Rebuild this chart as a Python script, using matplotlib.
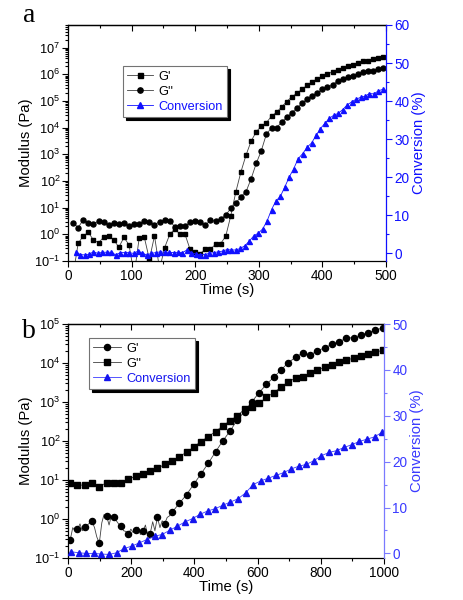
import numpy as np
import matplotlib
matplotlib.use('Agg')
import matplotlib.pyplot as plt
from matplotlib.ticker import FixedLocator, MultipleLocator, NullFormatter, LogFormatterSciNotation
from matplotlib.lines import Line2D

plt.rcParams['font.family'] = ['Liberation Sans', 'DejaVu Sans']
plt.rcParams['mathtext.fontset'] = 'custom'
plt.rcParams['mathtext.rm'] = 'Liberation Sans'
plt.rcParams['mathtext.it'] = 'Liberation Sans:italic'
plt.rcParams['mathtext.bf'] = 'Liberation Sans:bold'

# ---------------- Panel a data ----------------
time_a_mod = np.arange(8, 500, 8)          # s
gprime_a = [0.03, 0.46, 0.87, 1.19, 0.61, 0.49, 0.77, 0.89, 0.61, 0.33,
            0.77, 0.40, 0.03, 0.75, 0.77, 0.115, 0.87, 0.05, 0.32, 1.0,
            1.6, 1.0, 1.0, 0.27, 0.21, 0.19, 0.28, 0.28, 0.42, 0.45,
            0.85, 5.0, 40, 224, 950, 3160, 7000, 1.15e4,
            10**4.19, 10**4.43, 10**4.58, 10**4.78, 10**4.98, 10**5.16, 10**5.29,
            10**5.44, 10**5.59, 10**5.73, 10**5.83, 10**5.93, 10**6.01, 10**6.10,
            10**6.18, 10**6.24, 10**6.30, 10**6.36, 10**6.41, 10**6.49, 10**6.51,
            10**6.56, 10**6.60, 10**6.65]
gdprime_a = [2.7, 1.8, 3.5, 2.7, 2.4, 3.2, 3.0, 2.2, 2.6, 2.4,
             2.7, 2.0, 2.4, 2.4, 3.2, 3.0, 2.3, 3.0, 3.4, 3.2,
             1.9, 2.1, 2.1, 2.8, 3.3, 2.8, 2.2, 3.4, 3.1,
             3.7, 5.3, 9.4, 15, 26, 40, 123, 460, 1380, 5800, 9800, 1.0e4,
             10**4.21, 10**4.39, 10**4.56, 10**4.74, 10**4.91, 10**5.08, 10**5.20,
             10**5.31, 10**5.44, 10**5.51, 10**5.61, 10**5.75, 10**5.84, 10**5.90,
             10**5.95, 10**6.00, 10**6.09, 10**6.11, 10**6.14, 10**6.19, 10**6.25]
time_a_conv = np.arange(12, 500, 7)
conv_a = [0.3, -0.3, -0.4, -0.2, 0.4, 0.0, 0.3, 0.3, 0.3, -0.4,
          0.2, 0.2, 0.2, 0.0, 0.6, 0.0, -0.4, 0.0, 0.2, 0.4,
          0.3, 0.3, 0.2, 0.3, 0.2, 0.9, 0.2, -0.2, -0.3, -0.3,
          0.0, 0.2, 0.4, 0.6,
          1.0, 0.9, 0.9, 1.3, 2.0, 3.2, 4.6, 5.3, 6.4, 8.5,
          11.5, 13.8, 15.0, 17.5, 20.1, 22.3, 24.9, 26.2, 27.9, 29.0,
          31.0, 32.8, 34.2, 35.5, 36.3, 36.8, 37.8, 39.0, 39.8, 40.5,
          41.0, 41.3, 42.0, 41.9, 42.7, 43.1]

# ---------------- Panel b data ----------------
time_b_mod = np.arange(7, 1000, 23)
gprime_b = [0.29, 0.55, 0.62, 0.87, 0.24, 1.21, 1.10, 0.65, 0.42, 0.52,
            0.48, 0.42, 1.12, 0.76, 1.48, 2.5, 4.2, 7.8, 14.4, 27,
            53, 101, 181, 350, 570, 1020, 1740, 2840, 4300, 6600,
            1.02e4, 1.4e4, 1.83e4, 1.6e4, 2.04e4, 2.46e4, 3.0e4, 3.55e4, 4.3e4, 4.5e4,
            5.2e4, 6.0e4, 6.9e4, 8.0e4]
gdprime_b = [8.3, 7.4, 7.4, 8.2, 6.8, 8.5, 8.5, 8.6, 10.7, 12.3,
             14.4, 16.9, 20, 25, 30, 40, 51, 71, 97, 130,
             175, 244, 334, 449, 652, 760, 930, 1320, 1740, 2390,
             3330, 4070, 4460, 5460, 6640, 7770, 8900, 1.05e4, 1.2e4, 1.32e4,
             1.5e4, 1.66e4, 1.87e4, 2.14e4]
# G' (b) raw trace between the early markers (line only)
gprime_b_trace_t = [7, 15, 22, 30, 38, 45, 53, 61, 68, 76, 84, 91, 99, 107, 114,
                    122, 130, 137, 145, 153, 160, 168, 176, 183, 191, 199, 206,
                    214, 222, 229, 237, 245, 252, 260, 268, 275, 283, 291, 298,
                    306, 314, 321, 329]
gprime_b_trace = [0.29, 0.6, 0.5, 0.55, 0.75, 0.5, 0.62, 0.7, 0.78, 0.87, 0.6,
                  0.35, 0.24, 0.8, 1.3, 1.21, 0.7, 1.2, 1.10, 0.9, 0.75, 0.65,
                  0.5, 0.48, 0.42, 0.55, 0.45, 0.52, 0.62, 0.4, 0.48, 0.7, 0.38,
                  0.42, 0.85, 0.5, 1.12, 0.6, 0.9, 0.76, 1.1, 1.2, 1.48]
time_b_conv = np.arange(10, 1000, 24)
conv_b = [0.36, 0.14, 0.0, 0.0, -0.14, -0.22, 0.14, 1.08, 1.59, 2.31,
          3.03, 3.76, 4.12, 5.06, 5.92, 6.86, 7.59, 8.53, 9.25, 9.75,
          10.5, 11.2, 11.9, 13.2, 15.0, 15.8, 16.4, 17.0, 17.6, 18.4,
          19.0, 19.4, 20.2, 21.3, 22.0, 22.4, 23.1, 23.7, 24.4, 24.9,
          25.4, 26.4]

BLUE_A = '#1010ff'
BLUE_B = '#3a3aff'
SPINE_B = '#7a7aff'
LINE = '#404040'

fig = plt.figure(figsize=(4.63, 6.0), dpi=100)
W, H = 463.0, 600.0
axA = fig.add_axes([68 / W, 1 - 261 / H, (386 - 68) / W, (261 - 25) / H])
axB = fig.add_axes([68 / W, 1 - 558 / H, (384 - 68) / W, (558 - 324) / H])


def style(ax, xmax, xmaj, xmin, ylim, decades, rlim, rcolor, spinecolor):
    ax.set_xlim(0, xmax)
    ax.set_yscale('log')
    ax.set_ylim(*ylim)
    ax.xaxis.set_major_locator(MultipleLocator(xmaj))
    ax.xaxis.set_minor_locator(MultipleLocator(xmin))
    majors = [10.0 ** d for d in decades]
    minors = [m * 10.0 ** d for d in decades for m in range(2, 10)
              if m * 10.0 ** d <= ylim[1]]
    ax.yaxis.set_major_locator(FixedLocator(majors))
    ax.yaxis.set_major_formatter(LogFormatterSciNotation())
    ax.yaxis.set_minor_locator(FixedLocator(minors))
    ax.yaxis.set_minor_formatter(NullFormatter())
    ax.tick_params(which='both', direction='out', top=False, right=False,
                   labelsize=9.8, width=0.8, pad=2)
    ax.tick_params(axis='y', labelsize=9.2, pad=1.5)
    ax.tick_params(which='major', length=4)
    ax.tick_params(which='minor', length=2)
    for s in ('left', 'bottom', 'top'):
        ax.spines[s].set_linewidth(0.9)
    ax.spines['right'].set_visible(False)
    sec = ax.secondary_xaxis('top')
    sec.xaxis.set_major_locator(MultipleLocator(xmaj))
    sec.xaxis.set_minor_locator(MultipleLocator(xmin))
    sec.tick_params(which='both', direction='in', labeltop=False, width=0.8)
    sec.tick_params(which='major', length=4)
    sec.tick_params(which='minor', length=2)
    sec.spines['top'].set_linewidth(0.9)
    ax.set_xlabel('Time (s)', fontsize=10.7, labelpad=0)
    ax.set_ylabel('Modulus (Pa)', fontsize=10.7, labelpad=1)
    axr = ax.twinx()
    axr.set_ylim(*rlim)
    axr.yaxis.set_major_locator(MultipleLocator(10))
    axr.yaxis.set_minor_locator(MultipleLocator(5))
    for s in ('left', 'bottom', 'top'):
        axr.spines[s].set_visible(False)
    axr.spines['right'].set_color(spinecolor)
    axr.spines['right'].set_linewidth(0.9)
    axr.tick_params(axis='y', which='both', direction='out', colors=spinecolor,
                    labelcolor=rcolor, labelsize=9.8, width=0.8, pad=2)
    axr.tick_params(axis='y', which='major', length=4)
    axr.tick_params(axis='y', which='minor', length=2)
    axr.set_ylabel('Conversion (%)', color=rcolor, fontsize=10.7, labelpad=2)
    return axr


# ---------------- Panel a ----------------
axrA = style(axA, 500, 100, 50, (0.1, 10**7.85), range(-1, 8), (-2, 60),
             BLUE_A, BLUE_A)
axA.plot(time_a_mod, gprime_a, color=LINE, lw=0.6, marker='s', ms=3.4,
         mfc='k', mec='k')
axA.plot(time_a_mod, gdprime_a, color=LINE, lw=0.6, marker='o', ms=3.6,
         mfc='k', mec='k')
axrA.plot(time_a_conv, conv_a, color=BLUE_A, lw=0.6, marker='^', ms=3.6,
          mfc=BLUE_A, mec=BLUE_A)

hA = [Line2D([], [], color=LINE, lw=0.6, marker='s', ms=3.6, mfc='k', mec='k'),
      Line2D([], [], color=LINE, lw=0.6, marker='o', ms=3.8, mfc='k', mec='k'),
      Line2D([], [], color=BLUE_A, lw=0.6, marker='^', ms=3.8, mfc=BLUE_A, mec=BLUE_A)]
legA = axrA.legend(hA, ["G'", "G''", 'Conversion'], loc='upper left',
                   bbox_to_anchor=(0.173, 0.826), borderaxespad=0, fontsize=9.2,
                   fancybox=False, framealpha=1, edgecolor='0.45',
                   shadow={'color': 'k', 'alpha': 1}, handlelength=2.0,
                   handletextpad=0.4, labelspacing=0.25, borderpad=0.35)
legA.get_frame().set_linewidth(0.8)
legA.get_texts()[2].set_color(BLUE_A)

# ---------------- Panel b ----------------
axrB = style(axB, 1000, 200, 100, (0.1, 1e5), range(-1, 5), (-1, 50),
             BLUE_B, SPINE_B)
axB.yaxis.set_major_locator(FixedLocator([10.0 ** d for d in range(-1, 6)]))
axB.plot(gprime_b_trace_t, gprime_b_trace, color=LINE, lw=0.6)
axB.plot(time_b_mod[14:], gprime_b[14:], color=LINE, lw=0.6)
axB.plot(time_b_mod, gprime_b, ls='none', marker='o', ms=4.4, mfc='k', mec='k')
axB.plot(time_b_mod, gdprime_b, color=LINE, lw=0.6, marker='s', ms=4.0,
         mfc='k', mec='k')
axrB.plot(time_b_conv, conv_b, color=BLUE_B, lw=0.6, marker='^', ms=4.6,
          mfc='#1515ee', mec='#1515ee')

hB = [Line2D([], [], color=LINE, lw=0.6, marker='o', ms=4.4, mfc='k', mec='k'),
      Line2D([], [], color=LINE, lw=0.6, marker='s', ms=4.0, mfc='k', mec='k'),
      Line2D([], [], color=BLUE_B, lw=0.6, marker='^', ms=4.6, mfc='#1515ee', mec='#1515ee')]
legB = axrB.legend(hB, ["G'", "G''", 'Conversion'], loc='upper left',
                   bbox_to_anchor=(0.066, 0.94), borderaxespad=0, fontsize=9.2,
                   fancybox=False, framealpha=1, edgecolor='0.45',
                   shadow={'color': 'k', 'alpha': 1}, handlelength=2.2,
                   handletextpad=0.4, labelspacing=0.25, borderpad=0.35)
legB.get_frame().set_linewidth(0.8)
legB.get_texts()[2].set_color('#1515ee')

fig.text(23 / W, 1 - 21.5 / H, 'a', family='Liberation Serif', fontsize=20,
         va='baseline', ha='left')
fig.text(22 / W, 1 - 337.5 / H, 'b', family='Liberation Serif', fontsize=20,
         va='baseline', ha='left')

fig.savefig('out.png', dpi=100)
